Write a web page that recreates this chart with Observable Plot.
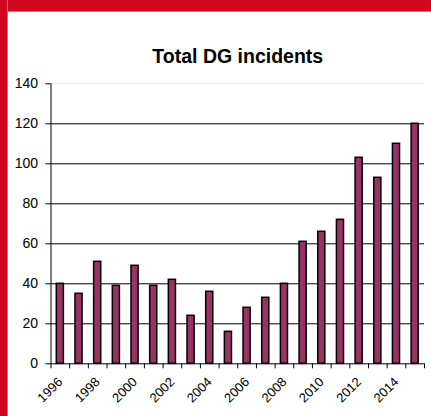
<!DOCTYPE html>
<html><head><meta charset="utf-8">
<script src="https://cdn.jsdelivr.net/npm/d3@7"></script>
<script src="https://cdn.jsdelivr.net/npm/@observablehq/plot@0.6"></script>
<style>
html,body{margin:0;padding:0;background:#fff;}
#wrap{position:relative;width:431px;height:416px;overflow:hidden;background:#fff;}
#chart{position:absolute;left:0;top:0;}
#topbar{position:absolute;left:0;top:0;width:431px;height:11px;background:#D0091E;border-bottom:1px solid #8c8c8c;}
#leftbar{position:absolute;left:0;top:0;width:7px;height:416px;background:#D0091E;border-right:1px solid #8c8c8c;}
</style></head>
<body><div id="wrap"><div id="chart"></div><div id="topbar"></div><div id="leftbar"></div></div>
<script>
const title = "Total DG incidents";
const years = [1996,1997,1998,1999,2000,2001,2002,2003,2004,2005,2006,2007,2008,2009,2010,2011,2012,2013,2014,2015];
const incidents = [40,35,51,39,49,39,42,24,36,16,28,33,40,61,66,72,103,93,110,120];
const labelYears = [1996,1998,2000,2002,2004,2006,2008,2010,2012,2014];
const yTicks = [0,20,40,60,80,100,120,140];

const data = years.map((year, i) => ({year, value: incidents[i]}));
const boundaries = years.map(y => y - 0.5).concat([years[years.length - 1] + 0.5]);
const half = 0.19;

const chart = Plot.plot({
  width: 431,
  height: 416,
  marginLeft: 50.5,
  marginRight: 7,
  marginTop: 83.3,
  marginBottom: 52.7,
  style: {fontFamily: "'Liberation Sans', Arial, sans-serif", background: "transparent", color: "#000"},
  x: {domain: [boundaries[0], boundaries[boundaries.length - 1]]},
  y: {domain: [0, 140]},
  marks: [
    Plot.ruleY(yTicks.filter(d => d > 0 && d < 140), {stroke: "#000", strokeWidth: 1}),
    Plot.ruleY([140], {stroke: "#e6e6e6", strokeWidth: 1}),
    Plot.rectY(data, {x1: d => d.year - half, x2: d => d.year + half, y: "value", fill: "#993366", stroke: "#000", strokeWidth: 1.5}),
    Plot.ruleX([boundaries[0]], {stroke: "#000"}),
    Plot.ruleY([0], {stroke: "#000"}),
    Plot.axisY({ticks: yTicks, tickSize: 5, tickPadding: 8, fontSize: 14, label: null, tickFormat: d => String(d)}),
    Plot.axisX({ticks: boundaries, tickSize: 5, tickFormat: () => "", label: null}),
    Plot.axisX({ticks: labelYears, tickSize: 0, tickPadding: 16, tickRotate: -45, fontSize: 13, label: null, tickFormat: d => String(d)}),
    Plot.text([title], {frameAnchor: "top", dy: -27.5, lineAnchor: "middle", fontSize: 19.5, fontWeight: "bold", fill: "#000"})
  ]
});
document.getElementById("chart").appendChild(chart);
</script>
</body></html>
